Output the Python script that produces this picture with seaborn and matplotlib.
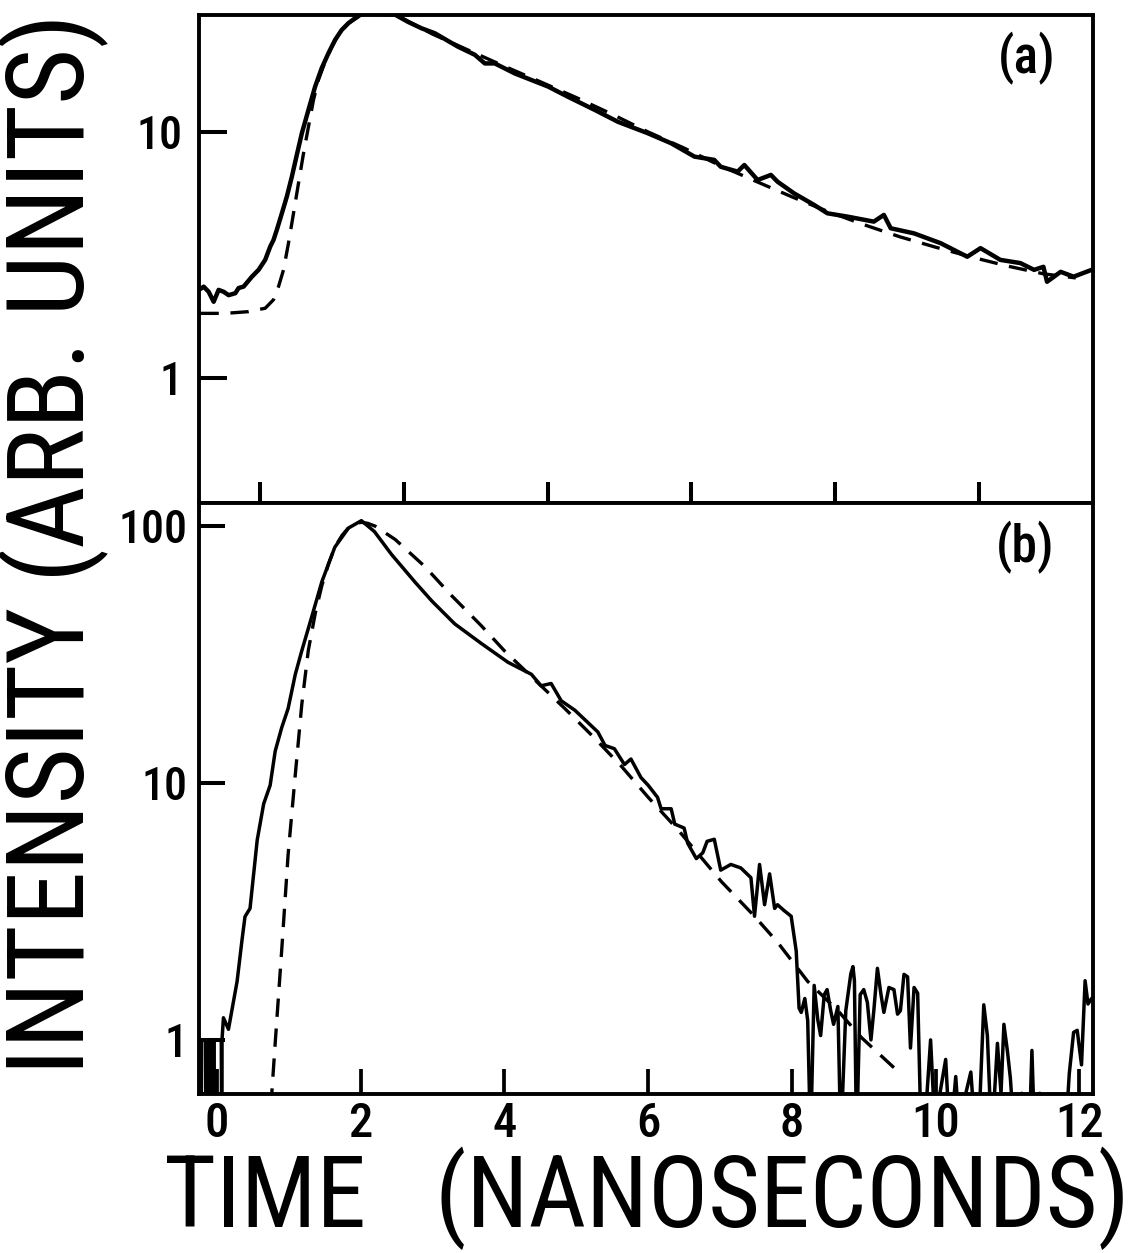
"""Fluorescence decay traces, panels (a) and (b), measured vs fitted."""

import matplotlib

matplotlib.use("Agg")
import matplotlib.pyplot as plt
import pandas as pd
import seaborn as sns

# panel (a): measured trace
t_a_meas = [-0.23, -0.185, -0.116, -0.046, 0.023, 0.093, 0.162, 0.255, 0.301, 0.37,
            0.486, 0.579, 0.671, 0.741, 0.787, 0.833, 0.903, 0.972, 1.042, 1.111,
            1.181, 1.273, 1.366, 1.458, 1.551, 1.644, 1.736, 1.829, 1.921, 2.014,
            2.29, 2.477, 2.662, 2.847, 3.032, 3.356, 3.588, 3.727, 3.866, 4.144,
            4.607, 4.885, 5.255, 5.579, 5.996, 6.319, 6.644, 6.92, 7.01, 7.245,
            7.338, 7.523, 7.708, 7.80, 8.03, 8.31, 8.495, 8.77, 9.14, 9.28,
            9.375, 9.70, 10.07, 10.44, 10.625, 10.90, 11.18, 11.37, 11.50, 11.55,
            11.74, 11.92, 12.17]
i_a_meas = [2.30, 2.35, 2.24, 2.04, 2.28, 2.24, 2.17, 2.21, 2.32, 2.35,
            2.58, 2.75, 3.02, 3.42, 3.64, 4.00, 4.67, 5.46, 6.58, 8.07,
            9.88, 12.3, 15.3, 18.2, 20.9, 23.7, 26.0, 27.7, 29.0, 30.2,
            30.4, 30.0, 28.0, 26.4, 25.2, 22.2, 20.6, 19.0, 19.0, 17.3,
            15.3, 13.9, 12.3, 11.0, 9.88, 9.0, 7.94, 7.70, 7.22, 6.90,
            7.34, 6.38, 6.69, 6.28, 5.63, 5.05, 4.67, 4.53, 4.32, 4.60,
            4.06, 3.87, 3.53, 3.11, 3.37, 3.02, 2.93, 2.75, 2.83, 2.46,
            2.70, 2.58, 2.75]

# panel (a): fitted curve
t_a_fit = [-0.23, 0.116, 0.44, 0.671, 0.787, 0.856, 0.926, 0.995, 1.065, 1.134,
           1.204, 1.273, 1.343, 1.412, 1.505, 1.597, 1.69, 1.829, 1.968, 2.2,
           2.52, 3.0, 3.5, 4.0, 4.5, 5.0, 5.5, 6.0, 6.5, 7.0,
           7.5, 8.0, 8.5, 9.0, 9.5, 10.0, 10.5, 11.0, 11.5, 11.95]
i_a_fit = [1.83, 1.83, 1.86, 1.92, 2.08, 2.35, 2.75, 3.53, 4.67, 6.18,
           8.18, 10.5, 13.5, 16.3, 19.3, 22.2, 24.8, 27.7, 29.4, 30.2,
           29.6, 25.0, 21.5, 18.5, 16.0, 13.8, 11.8, 10.0, 8.6, 7.3,
           6.3, 5.45, 4.75, 4.2, 3.75, 3.4, 3.1, 2.85, 2.65, 2.55]

# panel (b): measured trace
t_b_meas = [-0.25, -0.24, -0.235, -0.22, -0.215, -0.20, -0.16, -0.155, -0.15, -0.14,
            -0.10, -0.095, -0.09, -0.06, -0.05, -0.045, -0.04, 0.03, 0.06, 0.065,
            0.07, 0.09, 0.16, 0.28, 0.35, 0.39, 0.46, 0.56, 0.65, 0.74,
            0.81, 0.90, 0.99, 1.09, 1.18, 1.32, 1.46, 1.64, 1.83, 2.01,
            2.19, 2.43, 2.75, 2.99, 3.31, 3.68, 4.05, 4.375, 4.51, 4.65,
            4.79, 4.98, 5.30, 5.40, 5.53, 5.67, 5.76, 5.90, 6.0, 6.13,
            6.18, 6.32, 6.37, 6.50, 6.55, 6.67, 6.76, 6.82, 6.92, 7.01,
            7.15, 7.29, 7.43, 7.48, 7.55, 7.62, 7.69, 7.76, 7.80, 7.89,
            7.99, 8.06, 8.10, 8.13, 8.18, 8.22, 8.26, 8.31, 8.36, 8.40,
            8.45, 8.49, 8.54, 8.58, 8.64, 8.68, 8.75, 8.82, 8.85, 8.87,
            8.90, 8.95, 9.00, 9.05, 9.10, 9.14, 9.19, 9.24, 9.28, 9.35,
            9.42, 9.47, 9.51, 9.56, 9.61, 9.65, 9.70, 9.75, 9.80, 9.88,
            9.93, 10.0, 10.06, 10.14, 10.2, 10.28, 10.34, 10.42, 10.49, 10.56,
            10.62, 10.67, 10.72, 10.78, 10.86, 10.91, 10.95, 11.0, 11.04, 11.1,
            11.2, 11.3, 11.34, 11.38, 11.45, 11.6, 11.8, 11.86, 11.92, 11.97,
            12.03, 12.08, 12.12, 12.17]
i_b_meas = [1.0, 1.0, 0.4, 0.4, 1.0, 1.0, 1.0, 0.4, 1.0, 1.0,
            1.0, 0.4, 1.0, 1.0, 1.0, 0.4, 1.0, 1.0, 1.0, 0.4,
            1.0, 1.22, 1.10, 1.69, 2.47, 3.02, 3.25, 6.0, 8.3, 9.8,
            13.3, 16.4, 19.5, 26.5, 32.7, 44.5, 60.8, 82.8, 98.3, 105.0,
            95.3, 77.5, 60.8, 51.1, 41.6, 34.9, 29.5, 26.5, 23.9, 24.4,
            20.9, 19.2, 15.8, 14.0, 13.6, 11.8, 12.4, 10.5, 9.8, 8.8,
            7.94, 7.94, 6.92, 6.68, 5.83, 5.08, 5.35, 5.93, 6.04, 4.58,
            4.82, 4.67, 4.28, 3.03, 4.82, 3.36, 4.43, 3.25, 3.36, 3.19,
            3.03, 2.22, 1.33, 1.28, 1.45, 1.19, 0.4, 1.63, 1.2, 1.04,
            1.5, 1.57, 1.3, 1.15, 1.35, 0.4, 1.3, 1.81, 1.93, 1.7,
            0.4, 1.5, 1.57, 1.4, 1.0, 1.3, 1.9, 1.5, 1.28, 1.6,
            1.57, 1.26, 1.3, 1.8, 1.76, 0.93, 1.6, 1.52, 0.4, 0.62,
            1.0, 0.4, 0.62, 0.84, 0.4, 0.72, 0.4, 0.62, 0.75, 0.4,
            0.62, 1.37, 1.04, 0.4, 0.97, 0.62, 1.15, 0.9, 0.71, 0.4,
            0.62, 0.4, 0.91, 0.4, 0.62, 0.4, 0.4, 0.74, 1.07, 1.09,
            0.8, 1.70, 1.38, 1.45]

# panel (b): fitted curve
t_b_fit = [0.75, 0.81, 0.90, 0.99, 1.09, 1.18, 1.27, 1.37, 1.46, 1.55,
           1.64, 1.74, 1.83, 1.92, 2.01, 2.10, 2.20, 2.48, 2.89, 3.26,
           3.68, 4.0, 4.84, 5.25, 5.63, 6.0, 6.41, 7.02, 7.47, 7.80,
           8.22, 8.64, 8.97, 9.42]
i_b_fit = [0.55, 0.97, 2.22, 5.27, 10.8, 20.2, 32.7, 46.1, 58.8, 71.0,
           82.8, 92.0, 98.5, 102.0, 103.5, 102.5, 100.0, 88.7, 69.7, 53.8,
           40.9, 32.7, 19.5, 15.0, 11.6, 8.8, 6.6, 4.13, 3.05, 2.4,
           1.69, 1.3, 1.02, 0.78]

# top-panel time marks (no labels) and bottom-panel time ticks
marks_a = [0.6, 2.6, 4.6, 6.6, 8.6, 10.6]
ticks_b = [0, 2, 4, 6, 8, 10, 12]

sns.set_theme(style="white")
plt.rcParams["font.family"] = ["Roboto Condensed", "Liberation Sans", "DejaVu Sans"]

INK = "black"
fig = plt.figure(figsize=(11.42, 12.53), dpi=100)
ax_a = fig.add_axes([0.17426, 0.59856, 0.78284, 0.38947])
ax_b = fig.add_axes([0.17426, 0.12690, 0.78284, 0.47166])

panels = [
    (ax_a, t_a_meas, i_a_meas, t_a_fit, i_a_fit, 3.2, (0.31, 29.9)),
    (ax_b, t_b_meas, i_b_meas, t_b_fit, i_b_fit, 2.5, (0.616, 123.0)),
]
for ax, tm, im, tf, fi, lw, ylim in panels:
    meas = pd.DataFrame({"t": tm, "i": im})
    fit = pd.DataFrame({"t": tf, "i": fi})
    sns.lineplot(data=meas, x="t", y="i", ax=ax, sort=False, estimator=None,
                 color=INK, lw=lw)
    sns.lineplot(data=fit, x="t", y="i", ax=ax, sort=False, estimator=None,
                 color=INK, lw=2.4)
    ax.lines[-1].set_dashes((5.5, 3.5))
    ax.set_yscale("log")
    ax.set_xlim(-0.25, 12.19)
    ax.set_ylim(*ylim)
    ax.minorticks_off()
    ax.set_xlabel("")
    ax.set_ylabel("")
    for side in ax.spines.values():
        side.set_color(INK)
        side.set_linewidth(2.8)

ax_a.set_yticks([1, 10], labels=["1", "10"])
ax_a.set_xticks(marks_a, labels=[])
ax_a.tick_params(axis="y", left=True, direction="in", length=20, width=2.9,
                 pad=12, labelsize=33, colors=INK)
ax_a.tick_params(axis="x", bottom=True, direction="in", length=15, width=2.9,
                 colors=INK)

ax_b.set_yticks([1, 10, 100], labels=["1", "10", "100"])
ax_b.set_xticks(ticks_b, labels=[str(v) for v in ticks_b])
ax_b.tick_params(axis="y", left=True, direction="in", length=19, width=2.9,
                 pad=8, labelsize=33, colors=INK)
ax_b.tick_params(axis="x", bottom=True, direction="in", length=18, width=2.7,
                 pad=5, labelsize=35, colors=INK)
for lab in ax_a.get_yticklabels() + ax_b.get_yticklabels() + ax_b.get_xticklabels():
    lab.set_fontweight("medium")

ax_a.text(0.926, 0.91, "(a)", transform=ax_a.transAxes, ha="center",
          va="center", fontsize=37, fontweight="medium", color=INK)
ax_b.text(0.924, 0.924, "(b)", transform=ax_b.transAxes, ha="center",
          va="center", fontsize=37, fontweight="medium", color=INK)

fig.text(0.047, 0.566, "INTENSITY (ARB. UNITS)", rotation=90, ha="center",
         va="center", fontsize=78, color=INK)
fig.text(0.566, 0.044, "TIME   (NANOSECONDS)", ha="center", va="center",
         fontsize=72, color=INK)

fig.savefig("out.png", dpi=100)
